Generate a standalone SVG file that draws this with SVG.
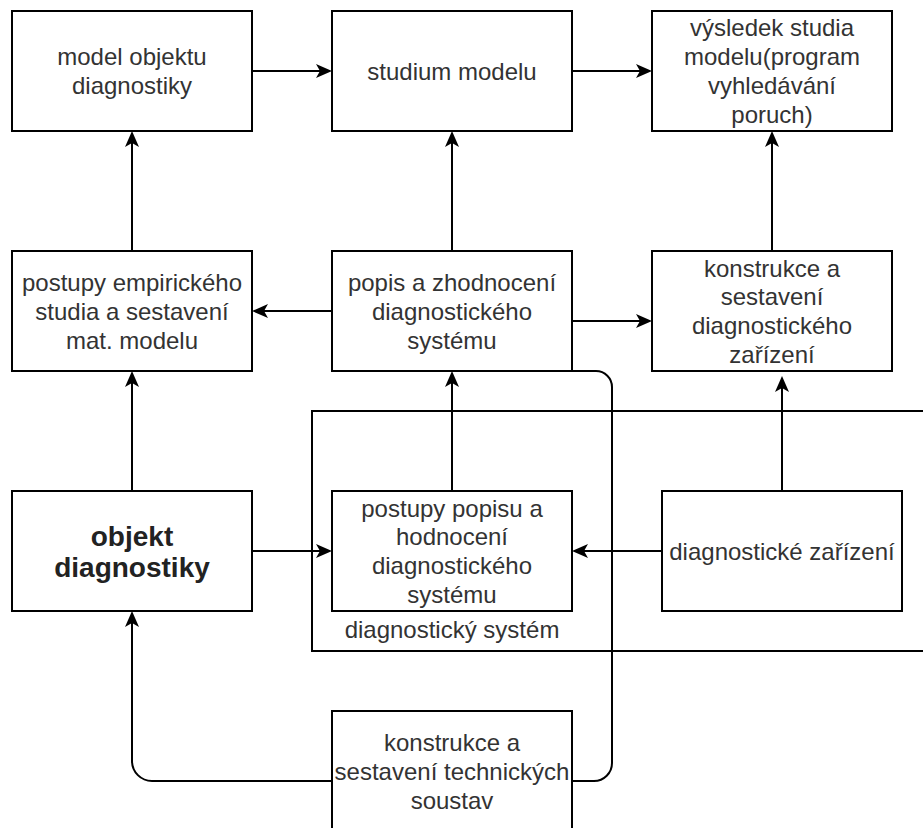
<svg xmlns="http://www.w3.org/2000/svg" width="923" height="828" viewBox="0 0 923 828">
<style>
  .box { fill: #ffffff; stroke: #000000; stroke-width: 2; }
  .cont { fill: #ffffff; stroke: #000000; stroke-width: 2; }
  .edge { fill: none; stroke: #000000; stroke-width: 2; }
  text { font-family: "Liberation Sans", Arial, Helvetica, sans-serif; font-size: 24px; fill: #333333; text-anchor: middle; }
  text.bold { font-weight: bold; font-size: 28px; fill: #222222; }
</style>
<defs>
  <marker id="arr" viewBox="0 0 16 14" refX="4" refY="7" markerWidth="16" markerHeight="14" markerUnits="userSpaceOnUse" orient="auto">
    <path d="M16,7 L0,0 L4,7 L0,14 Z" fill="#000000"/>
  </marker>
</defs>
<rect width="923" height="828" fill="#ffffff"/>

<g id="container-diagnosticky-system">
  <rect class="cont" x="312" y="411" width="640" height="240"/>
  <text x="452" y="638">diagnostický systém</text>
</g>

<g id="connectors">
  <path class="edge" d="M252,71 H320" marker-end="url(#arr)"/>
  <path class="edge" d="M572,71 H640" marker-end="url(#arr)"/>
  <path class="edge" d="M132,251 V143" marker-end="url(#arr)"/>
  <path class="edge" d="M452,251 V143" marker-end="url(#arr)"/>
  <path class="edge" d="M772,251 V143" marker-end="url(#arr)"/>
  <path class="edge" d="M332,311 H264" marker-end="url(#arr)"/>
  <path class="edge" d="M572,321 H640" marker-end="url(#arr)"/>
  <path class="edge" d="M132,491 V383" marker-end="url(#arr)"/>
  <path class="edge" d="M452,491 V383" marker-end="url(#arr)"/>
  <path class="edge" d="M782,491 V388" marker-end="url(#arr)"/>
  <path class="edge" d="M252,551 H320" marker-end="url(#arr)"/>
  <path class="edge" d="M662,551 H584" marker-end="url(#arr)"/>
  <path class="edge" d="M332,781 H152 A20,20 0 0 1 132,761 V623" marker-end="url(#arr)"/>
  <path class="edge" d="M572,781 H594 A18,18 0 0 0 612,763 V387 A16,16 0 0 0 596,371 H572"/>
</g>

<g id="n-model-objektu">
  <rect class="box" x="12" y="11" width="240" height="120"/>
  <text x="132" y="65">model objektu</text>
  <text x="132" y="93.8">diagnostiky</text>
</g>

<g id="n-studium-modelu">
  <rect class="box" x="332" y="11" width="240" height="120"/>
  <text x="452" y="79.5">studium modelu</text>
</g>

<g id="n-vysledek">
  <rect class="box" x="652" y="11" width="240" height="120"/>
  <text x="772" y="36.3">výsledek studia</text>
  <text x="772" y="65.1">modelu(program</text>
  <text x="772" y="93.9">vyhledávání</text>
  <text x="772" y="122.7">poruch)</text>
</g>

<g id="n-postupy-empirickeho">
  <rect class="box" x="12" y="251" width="240" height="120"/>
  <text x="132" y="291">postupy empirického</text>
  <text x="132" y="319.8">studia a sestavení</text>
  <text x="132" y="348.6">mat. modelu</text>
</g>

<g id="n-popis-zhodnoceni">
  <rect class="box" x="332" y="251" width="240" height="120"/>
  <text x="452" y="291">popis a zhodnocení</text>
  <text x="452" y="319.8">diagnostického</text>
  <text x="452" y="348.6">systému</text>
</g>

<g id="n-konstrukce-zarizeni">
  <rect class="box" x="652" y="251" width="240" height="120"/>
  <text x="772" y="276.5">konstrukce a</text>
  <text x="772" y="305.3">sestavení</text>
  <text x="772" y="334.1">diagnostického</text>
  <text x="772" y="362.9">zařízení</text>
</g>

<g id="n-objekt-diagnostiky">
  <rect class="box" x="12" y="491" width="240" height="120"/>
  <text class="bold" x="132" y="545.5">objekt</text>
  <text class="bold" x="132" y="576.5">diagnostiky</text>
</g>

<g id="n-postupy-popisu">
  <rect class="box" x="332" y="491" width="240" height="120"/>
  <text x="452" y="516.5">postupy popisu a</text>
  <text x="452" y="545.3">hodnocení</text>
  <text x="452" y="574.1">diagnostického</text>
  <text x="452" y="602.9">systému</text>
</g>

<g id="n-diagnosticke-zarizeni">
  <rect class="box" x="662" y="491" width="240" height="120"/>
  <text x="782" y="559.5">diagnostické zařízení</text>
</g>

<g id="n-konstrukce-soustav">
  <rect class="box" x="332" y="711" width="240" height="120"/>
  <text x="452" y="751">konstrukce a</text>
  <text x="452" y="779.8">sestavení technických</text>
  <text x="452" y="808.6">soustav</text>
</g>
</svg>
